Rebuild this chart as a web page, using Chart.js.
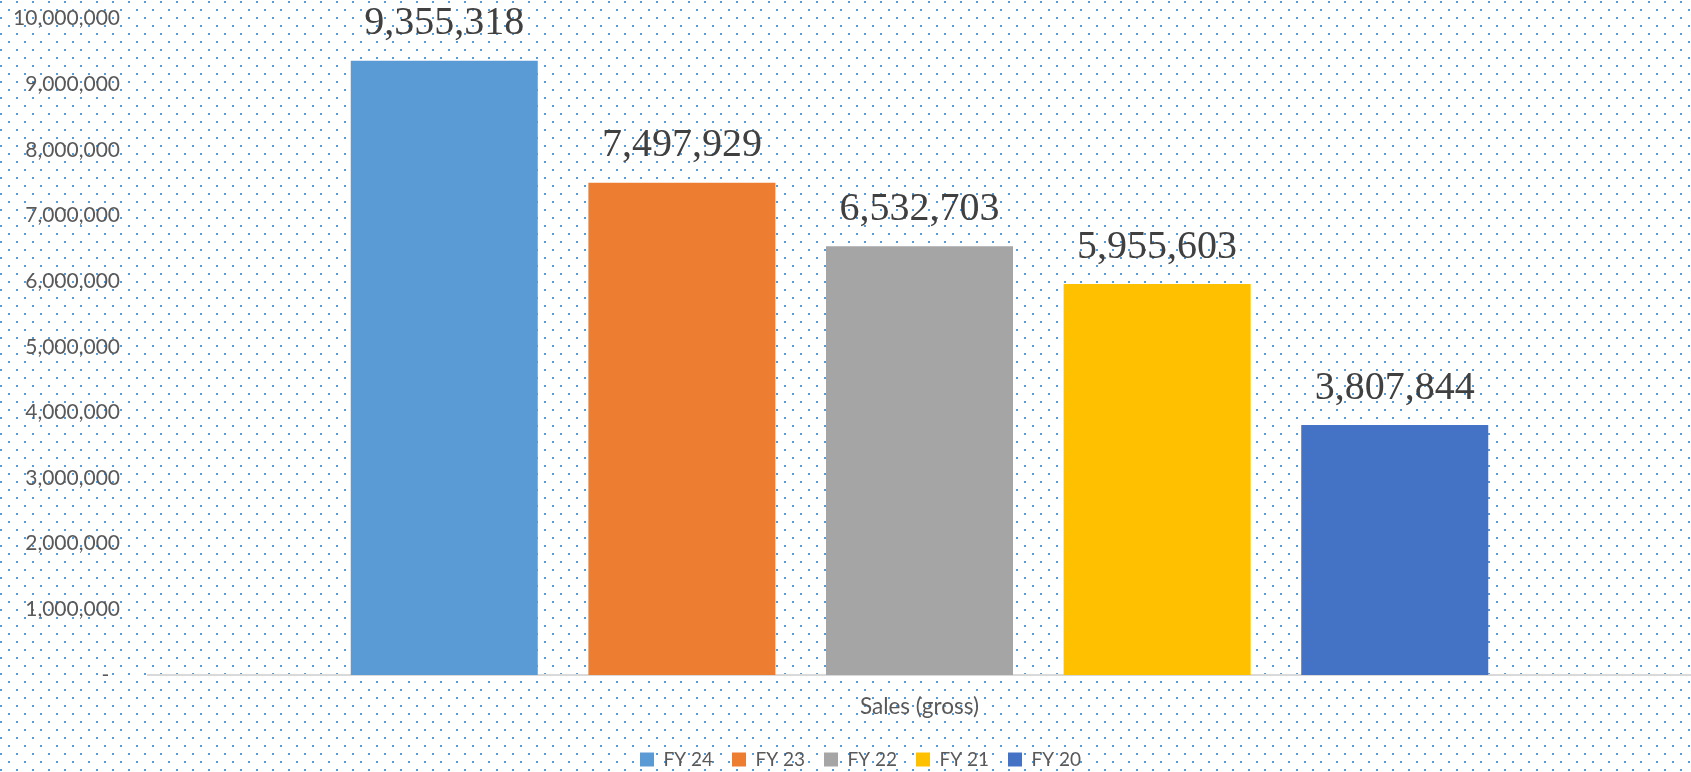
<!DOCTYPE html>
<html>
<head>
<meta charset="utf-8">
<script src="https://cdn.jsdelivr.net/npm/chart.js@4"></script>
<style>
  html, body { margin: 0; padding: 0; background: #fff; }
  #wrap { width: 1691px; height: 772px; }
</style>
</head>
<body>
<div id="wrap"><canvas id="chart"></canvas></div>
<script>
// chart data
const categories = ['Sales (gross)'];
const seriesNames = ['FY 24', 'FY 23', 'FY 22', 'FY 21', 'FY 20'];
const seriesValues = [9355318, 7497929, 6532703, 5955603, 3807844];
const seriesColors = ['#5B9BD5', '#ED7D31', '#A5A5A5', '#FFC000', '#4472C4'];
const yTicks = [0, 1000000, 2000000, 3000000, 4000000, 5000000, 6000000, 7000000, 8000000, 9000000, 10000000];

const fmt = (v) => v.toLocaleString('en-US');

// dotted background like the excel chart fill
const dotBackground = {
  id: 'dotBackground',
  beforeDraw(chart) {
    const ctx = chart.ctx;
    const tile = document.createElement('canvas');
    tile.width = 16;
    tile.height = 16;
    const t = tile.getContext('2d');
    t.fillStyle = '#5B9BD5';
    t.fillRect(0, 1, 2, 2);
    t.fillRect(8, 9, 2, 2);
    ctx.save();
    ctx.fillStyle = '#ffffff';
    ctx.fillRect(0, 0, chart.width, chart.height);
    ctx.fillStyle = ctx.createPattern(tile, 'repeat');
    ctx.fillRect(0, 0, chart.width, chart.height);
    ctx.restore();
  },
};

// value labels above each bar
const valueLabels = {
  id: 'valueLabels',
  afterDatasetsDraw(chart) {
    const ctx = chart.ctx;
    ctx.save();
    ctx.font = '40px "Liberation Serif", serif';
    ctx.fillStyle = '#404040';
    ctx.textAlign = 'center';
    ctx.textBaseline = 'middle';
    chart.data.datasets.forEach((ds, i) => {
      const meta = chart.getDatasetMeta(i);
      meta.data.forEach((bar, j) => {
        ctx.fillText(fmt(ds.data[j]), bar.x, bar.y - 37);
      });
    });
    ctx.restore();
  },
};

// legend sits a bit right of centre in the original
const legendShift = {
  id: 'legendShift',
  afterLayout(chart) {
    chart.legend.left += 15;
    chart.legend.right += 15;
  },
};

const datasets = seriesNames.map((name, i) => ({
  label: name,
  data: [seriesValues[i]],
  backgroundColor: seriesColors[i],
  borderWidth: 0,
  categoryPercentage: 0.77,
  barPercentage: 0.787,
}));

new Chart(document.getElementById('chart'), {
  type: 'bar',
  data: { labels: categories, datasets: datasets },
  plugins: [dotBackground, valueLabels, legendShift],
  options: {
    responsive: true,
    maintainAspectRatio: false,
    animation: false,
    layout: { padding: { top: 18.5, left: 0, right: 0, bottom: -7 } },
    plugins: {
      tooltip: { enabled: false },
      legend: {
        position: 'bottom',
        labels: {
          font: { family: 'Lato', size: 19 },
          color: '#595959',
          boxWidth: 14,
          boxHeight: 14,
          padding: 19,
        },
      },
    },
    scales: {
      x: {
        grid: { display: false, drawTicks: false },
        border: { display: true, color: '#D9D9D9', width: 2 },
        ticks: {
          font: { family: 'Lato', size: 22.5 },
          color: '#595959',
          padding: 18.5,
        },
        afterFit: (scale) => { scale.height = 56; },
      },
      y: {
        min: 0,
        max: 10000000,
        afterBuildTicks: (scale) => { scale.ticks = yTicks.map((v) => ({ value: v })); },
        grid: { display: false, drawTicks: false },
        border: { display: false },
        ticks: {
          font: { family: 'Lato', size: 21 },
          color: '#595959',
          padding: 28,
          callback: (v) => (v === 0 ? '-  ' : fmt(v)),
        },
        afterFit: (scale) => {
          scale.width = 148;
          scale.paddingTop = 0;
          scale.paddingBottom = 0;
        },
      },
    },
  },
});
</script>
</body>
</html>
